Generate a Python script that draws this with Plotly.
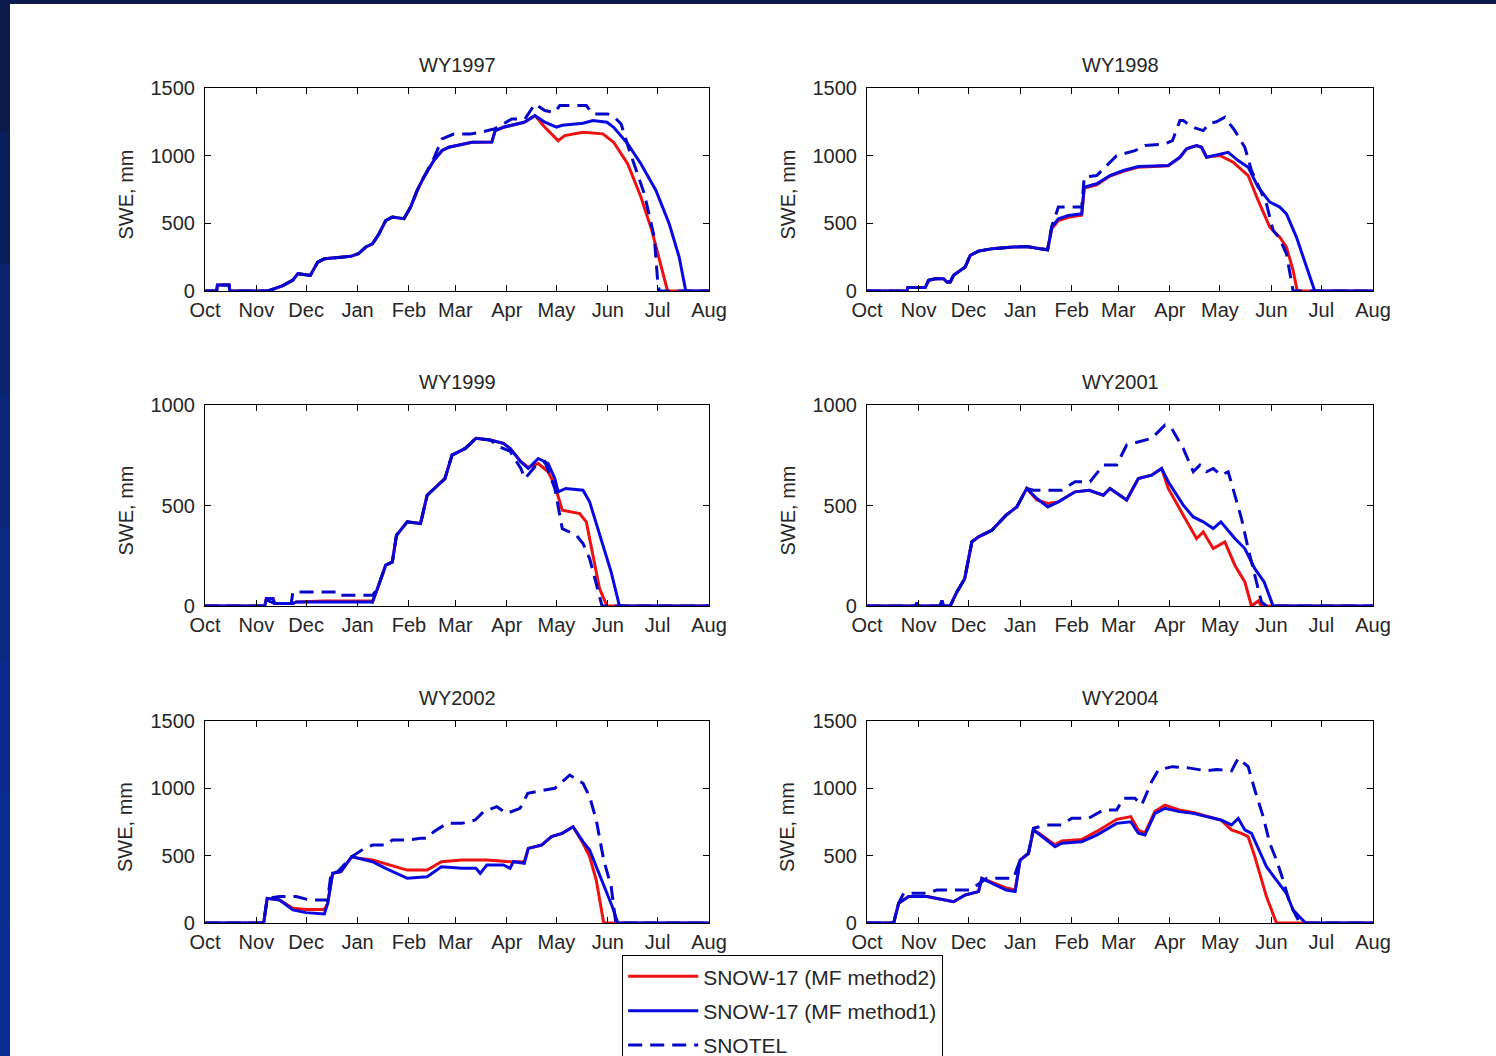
import plotly.graph_objects as go

# ---------------------------------------------------------------
# Snow water equivalent (SWE, mm) through six water years.
# x values are days since 1 October; each series is (day, SWE) pairs.
# ---------------------------------------------------------------

MONTH_LABELS = ["Oct", "Nov", "Dec", "Jan", "Feb", "Mar", "Apr", "May", "Jun", "Jul", "Aug"]
MONTH_START_DAYS = [0, 31, 61, 92, 123, 151, 182, 212, 243, 273, 304]

PANEL_TITLES = ["WY1997", "WY1998", "WY1999", "WY2001", "WY2002", "WY2004"]
PANEL_YMAX = [1500, 1500, 1000, 1000, 1500, 1500]

SERIES_NAMES = ["SNOW-17 (MF method2)", "SNOW-17 (MF method1)", "SNOTEL"]

# ---- WY1997 ----
wy1997_method2 = [(0, 0), (7, 0), (7.5, 45), (14.5, 45), (15, 0), (38, 0), (47, 40), (53, 80), (56, 128),
                  (63.5, 115), (68, 214), (72, 238), (88, 256), (92.5, 275), (97, 325), (101, 349), (105, 423),
                  (109, 521), (113, 546), (120, 534), (124, 620), (128, 743), (132, 841), (138, 964), (143, 1038),
                  (147, 1062), (161, 1099), (173, 1100), (175, 1185), (180, 1210), (192.5, 1247), (199, 1296),
                  (205, 1210), (213, 1111), (217, 1148), (228, 1173), (240, 1161), (246.5, 1099), (255, 939),
                  (263, 693), (269.5, 448), (275, 177), (279, 0), (304, 0)]
wy1997_method1 = [(0, 0), (7, 0), (7.5, 45), (14.5, 45), (15, 0), (38, 0), (47, 40), (53, 80), (56, 128),
                  (63.5, 115), (68, 214), (72, 238), (88, 256), (92.5, 275), (97, 325), (101, 349), (105, 423),
                  (109, 521), (113, 546), (120, 534), (124, 620), (128, 743), (132, 841), (138, 964), (143, 1038),
                  (147, 1062), (161, 1099), (173, 1100), (175, 1185), (180, 1210), (192.5, 1247), (199, 1296),
                  (205, 1247), (212, 1210), (215.5, 1225), (228, 1239), (234, 1259), (242.5, 1247),
                  (246.5, 1210), (255, 1087), (263, 939), (272, 743), (280, 497), (286, 251), (290, 0), (304, 0)]
wy1997_snotel = [(0, 0), (7, 0), (7.5, 45), (14.5, 45), (15, 0), (38, 0), (47, 40), (53, 80), (56, 128),
                 (63.5, 115), (68, 214), (72, 238), (88, 256), (92.5, 275), (97, 325), (101, 349), (105, 423),
                 (109, 521), (113, 546), (120, 534), (124, 620), (128, 743), (132, 841), (138, 980), (143, 1124),
                 (150, 1160), (160, 1160), (167, 1175), (175, 1200), (180, 1234), (185, 1271), (193, 1271),
                 (199, 1382), (205, 1333), (211, 1320), (214, 1370), (230, 1370), (234, 1308), (243, 1308),
                 (247, 1284), (251, 1234), (256, 1038), (265, 718), (271, 398), (273, 79), (274, 0), (304, 0)]

# ---- WY1998 ----
wy1998_method2 = [(0, 0), (24, 0), (24.5, 25), (35, 25), (37, 79), (41, 91), (46, 91), (48, 66), (50, 66),
                  (52, 116), (59, 177), (62, 263), (67, 295), (75, 312), (88, 325), (96, 328), (104, 312),
                  (108.5, 305), (111, 460), (115, 520), (121, 545), (129, 560), (130.5, 760), (138, 785),
                  (146, 850), (154, 885), (163, 915), (181, 925), (188, 988), (192, 1050), (198, 1075),
                  (201, 1062), (204, 990), (212, 1001), (220, 952), (229, 853), (235, 669), (242, 472),
                  (248, 398), (252, 325), (256, 152), (258.5, 0), (304, 0)]
wy1998_method1 = [(0, 0), (24, 0), (24.5, 25), (35, 25), (37, 79), (41, 91), (46, 91), (48, 66), (50, 66),
                  (52, 116), (59, 177), (62, 263), (67, 295), (75, 312), (88, 325), (96, 328), (104, 312),
                  (108.5, 305), (111, 472), (115, 534), (121, 558), (129, 570), (130.5, 767), (138, 792),
                  (146, 853), (154, 890), (163, 920), (181, 927), (188, 988), (192, 1050), (198, 1075),
                  (201, 1062), (204, 988), (208, 1000), (217, 1025), (223, 964), (229, 915), (235, 767),
                  (242, 657), (248, 620), (252, 570), (258, 398), (264, 177), (269, 0), (304, 0)]
wy1998_snotel = [(0, 0), (24, 0), (24.5, 25), (35, 25), (37, 79), (41, 91), (46, 91), (48, 66), (50, 66),
                 (52, 116), (59, 177), (62, 263), (67, 295), (75, 312), (88, 325), (96, 328), (104, 312),
                 (108.5, 305), (111, 480), (115, 620), (129, 620), (130.5, 841), (138, 853), (142, 900),
                 (150, 1000), (161, 1037), (167, 1075), (179, 1087), (183.5, 1111), (188, 1259), (190, 1259),
                 (196, 1210), (202, 1185), (206, 1240), (210, 1250), (215, 1284), (221, 1185), (227, 1062),
                 (231, 890), (240, 644), (244, 448), (248, 386), (252, 275), (256, 0), (304, 0)]

# ---- WY1999 ----
wy1999_method2 = [(0, 0), (36, 0), (37, 37), (41, 37), (42, 12), (53, 12), (55, 20), (72, 25), (100, 25),
                  (101, 20), (104, 86), (109, 203), (113, 219), (115.5, 352), (122, 419), (130, 410), (134, 551),
                  (140.5, 601), (144.7, 634), (149, 751), (157, 784), (163.4, 834), (172, 826), (180, 809),
                  (184, 784), (190.5, 718), (195, 690), (201, 709), (207, 668), (211, 601), (215.5, 477),
                  (226, 460), (230, 419), (234, 252), (238, 86), (242.5, 0), (304, 0)]
wy1999_method1 = [(0, 0), (36, 0), (37, 37), (41, 37), (42, 12), (53, 12), (55, 20), (101, 20), (104, 86),
                  (109, 203), (113, 219), (115.5, 352), (122, 419), (130, 410), (134, 551), (140.5, 601),
                  (144.7, 634), (149, 751), (157, 784), (163.4, 834), (172, 826), (180, 809), (184, 784),
                  (190.5, 718), (195, 684), (201, 734), (207, 709), (211, 634), (213, 568), (217.6, 585),
                  (228, 576), (232, 518), (238, 352), (245, 169), (250, 0), (304, 0)]
wy1999_snotel = [(0, 0), (36, 0), (37, 30), (42, 12), (52, 12), (53, 70), (80, 70), (81, 53), (101, 53),
                 (104, 86), (109, 203), (113, 219), (115.5, 352), (122, 419), (130, 410), (134, 551),
                 (140.5, 601), (144.7, 634), (149, 751), (157, 784), (163.4, 834), (172, 826), (178, 790),
                 (184, 770), (190.5, 684), (193, 634), (199, 693), (205, 718), (211, 585), (215.5, 385),
                 (224, 352), (228, 311), (232, 236), (238, 37), (239.5, 0), (304, 0)]

# ---- WY2001 ----
wy2001_method2 = [(0, 0), (29, 0), (30, 15), (31, 0), (44, 0), (45, 28), (46, 0), (50, 0), (54, 70),
                  (58.7, 136), (63, 319), (67, 344), (75, 377), (83.6, 452), (90, 493), (96, 585), (102, 528),
                  (108.6, 510), (115, 518), (125, 568), (133.5, 576), (142, 551), (146, 585), (156, 527),
                  (163, 634), (171, 651), (177, 684), (181, 585), (190, 452), (198, 336), (202, 369),
                  (208, 286), (215, 319), (221, 203), (227, 120), (231, 0), (235, 25), (237, 0), (304, 0)]
wy2001_method1 = [(0, 0), (29, 0), (30, 15), (31, 0), (44, 0), (45, 28), (46, 0), (50, 0), (54, 70),
                  (58.7, 136), (63, 319), (67, 344), (75, 377), (83.6, 452), (90, 493), (96, 585), (102, 535),
                  (108.6, 493), (115, 518), (125, 568), (133.5, 576), (142, 551), (146, 585), (156, 527),
                  (163, 634), (171, 651), (177, 684), (181, 618), (190, 502), (196, 443), (202, 419),
                  (208, 385), (212.6, 419), (221, 336), (227, 286), (233, 186), (238.6, 120), (244, 0), (304, 0)]
wy2001_snotel = [(0, 0), (29, 0), (30, 15), (31, 0), (44, 0), (45, 28), (46, 0), (50, 0), (54, 70),
                 (58.7, 136), (63, 319), (67, 344), (75, 377), (83.6, 452), (90, 493), (96, 585), (100, 576),
                 (117, 576), (125, 618), (134, 618), (142, 701), (150, 701), (156, 801), (163, 817),
                 (171, 834), (179, 900), (183, 884), (190, 784), (196, 668), (200, 701), (204, 668),
                 (208, 684), (212.6, 651), (217, 668), (221, 551), (225, 435), (229, 286), (233, 153),
                 (237, 20), (240, 0), (304, 0)]

# ---- WY2002 ----
wy2002_method2 = [(0, 0), (35.4, 0), (37.5, 183), (45, 171), (53, 109), (61, 100), (72, 100), (74, 146),
                  (77, 369), (82, 381), (88.5, 493), (92.6, 480), (101, 468), (109, 440), (122, 393),
                  (134, 393), (142.6, 455), (155, 468), (170, 468), (184, 455), (192.6, 455), (195, 554),
                  (203, 579), (209, 641), (215.5, 666), (222, 715), (228, 592), (232, 493), (236, 319),
                  (240.5, 0), (304, 0)]
wy2002_method1 = [(0, 0), (35.4, 0), (37.5, 183), (45, 171), (53, 97), (61, 77), (72, 67), (74, 146),
                  (77, 369), (82, 381), (88.5, 493), (92.6, 480), (101, 455), (109, 406), (122, 332),
                  (134, 344), (142.6, 418), (155, 406), (163.4, 406), (166, 369), (170, 431), (180, 431),
                  (184, 406), (186, 455), (192.6, 443), (195, 554), (203, 579), (209, 641), (215.5, 666),
                  (222, 715), (228, 604), (232, 542), (236, 418), (240.5, 270), (245.7, 121), (249, 0), (304, 0)]
wy2002_snotel = [(0, 0), (35.4, 0), (37.5, 183), (45, 196), (55, 196), (63, 171), (74, 171), (76, 369),
                 (80, 381), (88.5, 493), (94.7, 542), (101, 579), (109, 579), (113, 616), (122, 616),
                 (130, 629), (134, 629), (138, 678), (146, 740), (155, 740), (163, 765), (168, 827),
                 (176, 864), (182, 814), (190, 851), (194.7, 963), (205, 988), (211, 1000), (220, 1099),
                 (228, 1037), (232, 938), (236, 765), (240.5, 468), (245, 270), (247.8, 0), (304, 0)]

# ---- WY2004 ----
wy2004_method2 = [(0, 0), (16, 0), (19, 146), (25, 196), (36, 196), (46, 171), (52, 158), (59, 208),
                  (67, 233), (69, 332), (75, 300), (83.6, 260), (89, 245), (92, 468), (97, 517), (100, 691),
                  (104, 660), (113, 580), (117, 610), (129, 620), (138, 680), (150, 770), (158.5, 790),
                  (163, 690), (167, 670), (173, 830), (179, 876), (187.6, 840), (196, 820), (204, 795),
                  (212.6, 765), (219, 691), (225, 666), (229, 641), (233, 493), (240, 196), (246, 0), (304, 0)]
wy2004_method1 = [(0, 0), (16, 0), (19, 146), (25, 196), (36, 196), (46, 171), (52, 158), (59, 208),
                  (67, 233), (69, 332), (75, 295), (83.6, 245), (89, 233), (92, 468), (97, 517), (100, 691),
                  (104, 653), (113, 567), (117, 592), (129, 604), (138, 653), (150, 740), (158.5, 752),
                  (163, 666), (167, 653), (173, 814), (179, 851), (187.6, 827), (196, 814), (204, 790),
                  (212.6, 765), (219, 728), (223, 777), (227, 691), (231, 666), (235.5, 542), (240, 418),
                  (246, 319), (252, 220), (256, 97), (263.5, 0), (304, 0)]
wy2004_snotel = [(0, 0), (16, 0), (19, 146), (22, 220), (36, 220), (42, 245), (62, 245), (72, 332),
                 (88, 332), (92, 468), (97, 517), (100, 703), (108, 728), (117, 728), (123, 777), (133, 777),
                 (142, 839), (150, 839), (154, 926), (161, 926), (165, 876), (171, 1049), (175, 1136),
                 (183.5, 1161), (194, 1150), (204, 1130), (210, 1140), (219, 1130), (223, 1223), (229, 1161),
                 (233, 988), (238, 790), (242, 592), (246, 468), (250, 319), (254, 146), (260, 0), (304, 0)]

PANEL_SERIES = [
    (wy1997_method2, wy1997_method1, wy1997_snotel),
    (wy1998_method2, wy1998_method1, wy1998_snotel),
    (wy1999_method2, wy1999_method1, wy1999_snotel),
    (wy2001_method2, wy2001_method1, wy2001_snotel),
    (wy2002_method2, wy2002_method1, wy2002_snotel),
    (wy2004_method2, wy2004_method1, wy2004_snotel),
]

# ---------------------------------------------------------------
# Page geometry (pixels) and styling
# ---------------------------------------------------------------
W, H = 1496, 1056
COL_X = [(205, 709), (867, 1373)]
ROW_Y = [(88, 291), (405, 606), (721, 923)]

FONT = "Liberation Sans, Arial, Helvetica, sans-serif"
TEXT_COLOR = "#262626"
LINE_STYLES = [
    dict(color="#ee1111", width=3),
    dict(color="#0a0ae0", width=3),
    dict(color="#0606c8", width=3, dash="14px,8px"),
]


def px_x(x):
    return x / W


def px_y(y):
    return 1 - y / H


fig = go.Figure()
annotations = []

for i, title in enumerate(PANEL_TITLES):
    row, col = divmod(i, 2)
    x0, x1 = COL_X[col]
    y0, y1 = ROW_Y[row]
    ax_id = "" if i == 0 else str(i + 1)
    xref, yref = "x" + ax_id, "y" + ax_id

    for k, series in enumerate(PANEL_SERIES[i]):
        fig.add_trace(go.Scatter(
            x=[p[0] for p in series],
            y=[p[1] for p in series],
            mode="lines",
            line=LINE_STYLES[k],
            name=SERIES_NAMES[k],
            legendgroup=SERIES_NAMES[k],
            showlegend=(i == 0),
            xaxis=xref, yaxis=yref,
            hoverinfo="skip",
        ))

    ymax = PANEL_YMAX[i]
    axis_common = dict(
        showline=True, linecolor="black", linewidth=1.2, mirror="ticks",
        ticks="inside", ticklen=6, tickwidth=1.2, tickcolor="black",
        showgrid=False, zeroline=False,
        tickfont=dict(family=FONT, size=20, color=TEXT_COLOR),
        fixedrange=True, automargin=False,
    )
    fig.layout["xaxis" + ax_id] = dict(
        axis_common,
        domain=[px_x(x0), px_x(x1)],
        anchor=yref,
        range=[0, 304],
        tickmode="array", tickvals=MONTH_START_DAYS, ticktext=MONTH_LABELS,
        ticklabelstandoff=1,
    )
    fig.layout["yaxis" + ax_id] = dict(
        axis_common,
        domain=[px_y(y1), px_y(y0)],
        anchor=xref,
        range=[0, ymax],
        tickmode="array", tickvals=list(range(0, ymax + 1, 500)),
        ticklabelstandoff=5,
    )

    # panel title
    annotations.append(dict(
        text=title, x=px_x((x0 + x1) / 2), y=px_y(y0 - 23), xref="paper", yref="paper",
        xanchor="center", yanchor="middle", showarrow=False,
        font=dict(family=FONT, size=20, color=TEXT_COLOR),
    ))
    # y-axis label
    annotations.append(dict(
        text="SWE, mm", x=px_x(x0 - 80), y=px_y((y0 + y1) / 2 + 5), xref="paper", yref="paper",
        xanchor="center", yanchor="middle", showarrow=False, textangle=-90,
        font=dict(family=FONT, size=20, color=TEXT_COLOR),
    ))

# slide frame: dark band on top and a blue band down the left side
shapes = [dict(type="rect", xref="paper", yref="paper", x0=0, x1=1, y0=px_y(4), y1=1,
               line=dict(width=0), fillcolor="#0b1a4a", layer="above")]
band_colors = ["#0b1a4a", "#0b1e5c", "#0b226c", "#0a2679", "#0a2983", "#0a2b8b", "#0a2c8f", "#0a2d92"]
band_h = H / len(band_colors)
for j, c in enumerate(band_colors):
    shapes.append(dict(type="rect", xref="paper", yref="paper",
                       x0=0, x1=px_x(10), y0=px_y((j + 1) * band_h + 1), y1=px_y(j * band_h),
                       line=dict(width=0), fillcolor=c, layer="above"))

fig.update_layout(
    width=W, height=H,
    margin=dict(l=0, r=0, t=0, b=0, autoexpand=False),
    paper_bgcolor="white", plot_bgcolor="white",
    annotations=annotations,
    shapes=shapes,
    showlegend=True,
    legend=dict(
        x=px_x(622), y=px_y(955), xanchor="left", yanchor="top",
        bgcolor="rgba(255,255,255,0)", bordercolor="black", borderwidth=1.2,
        font=dict(family=FONT, size=21, color=TEXT_COLOR),
        itemwidth=70, tracegroupgap=4,
    ),
)

# keep the page exactly the size of the figure
page_css = (
    "document.documentElement.style.margin='0';"
    "document.body.style.margin='0';"
    "document.body.style.overflow='hidden';"
)

fig.write_html("out.html", config={"displayModeBar": False}, post_script=page_css)
